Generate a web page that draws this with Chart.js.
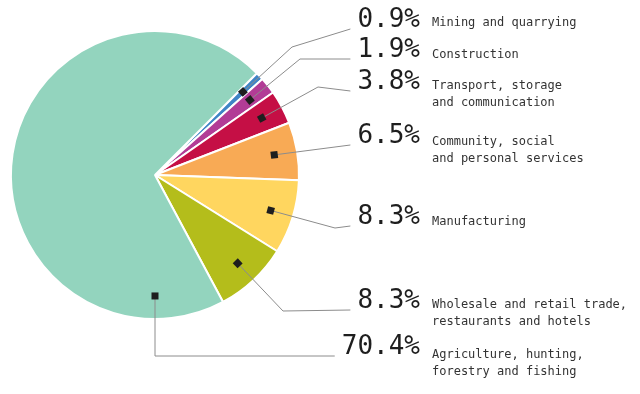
<!DOCTYPE html>
<html>
<head>
<meta charset="utf-8">
<script src="https://cdn.jsdelivr.net/npm/chart.js@4"></script>
<style>
  html, body { margin: 0; padding: 0; background: #fff; }
  #wrap { width: 640px; height: 394px; position: relative; }
</style>
</head>
<body>
<div id="wrap"><canvas id="grafico"></canvas></div>
<script>
// dados (em ordem horaria a partir do topo-direita)
const setores = [
  ['Mining and quarrying'],
  ['Construction'],
  ['Transport, storage', 'and communication'],
  ['Community, social', 'and personal services'],
  ['Manufacturing'],
  ['Wholesale and retail trade,', 'restaurants and hotels'],
  ['Agriculture, hunting,', 'forestry and fishing']
];
const valores = [0.9, 1.9, 3.8, 6.5, 8.3, 8.3, 70.4];
const cores = ['#3f85c6', '#b23c96', '#c50f45', '#f8aa55', '#ffd65f', '#b4bd1b', '#93d4be'];

// posicoes dos rotulos (layout)
const yPct = [20, 50, 82, 136, 217, 301, 347];
const yTexto = [23, 55, 86, 142, 222, 305, 355];
const cotovelos = [[292, 47], [300, 59], [318, 87], null, [335, 228], [283, 311], 'abaixo'];

const fontePct = '26px "DejaVu Sans Mono"';
const fonteTexto = '12px "DejaVu Sans Mono"';

const rotulos = {
  id: 'rotulos',
  afterDatasetsDraw(chart) {
    const ctx = chart.ctx;
    const arcs = chart.getDatasetMeta(0).data;
    ctx.save();
    arcs.forEach((arc, i) => {
      const p = arc.getProps(['x', 'y', 'startAngle', 'endAngle', 'outerRadius'], true);
      let ang = (p.startAngle + p.endAngle) / 2;
      if (i === arcs.length - 1) ang = Math.PI / 2; // fatia grande: marcador para baixo
      const mx = p.x + Math.cos(ang) * p.outerRadius * 0.84;
      const my = p.y + Math.sin(ang) * p.outerRadius * 0.84;

      const pct = valores[i].toFixed(1) + '%';
      ctx.font = fontePct;
      const larg = ctx.measureText(pct).width;
      const fimX = 420 - larg - 7;
      const fimY = yPct[i] + 9;

      const pts = [[mx, my]];
      const c = cotovelos[i];
      if (c === 'abaixo') pts.push([mx, fimY]);
      else if (c) pts.push(c);
      pts.push([fimX, fimY]);

      ctx.strokeStyle = '#8c8c8c';
      ctx.lineWidth = 1;
      ctx.beginPath();
      ctx.moveTo(pts[0][0], pts[0][1]);
      for (let k = 1; k < pts.length; k++) ctx.lineTo(pts[k][0], pts[k][1]);
      ctx.stroke();

      // marcador
      const dir = Math.atan2(pts[1][1] - my, pts[1][0] - mx);
      ctx.save();
      ctx.translate(mx, my);
      ctx.rotate(dir);
      ctx.fillStyle = '#1e1e1e';
      ctx.fillRect(-3.5, -3.5, 7, 7);
      ctx.restore();

      // textos
      ctx.fillStyle = '#1e1e1e';
      ctx.textAlign = 'right';
      ctx.textBaseline = 'middle';
      ctx.fillText(pct, 420, yPct[i]);
      ctx.font = fonteTexto;
      ctx.fillStyle = '#333';
      ctx.textAlign = 'left';
      setores[i].forEach((linha, k) => ctx.fillText(linha, 432, yTexto[i] + k * 17));
    });
    ctx.restore();
  }
};

new Chart(document.getElementById('grafico'), {
  type: 'pie',
  data: {
    labels: setores.map(s => s.join(' ')),
    datasets: [{
      data: valores,
      backgroundColor: cores,
      borderColor: '#fff',
      borderWidth: 2
    }]
  },
  options: {
    responsive: true,
    maintainAspectRatio: false,
    animation: false,
    rotation: 45,
    layout: { padding: { left: 10, top: 30, right: 340, bottom: 74 } },
    plugins: { legend: { display: false }, tooltip: { enabled: false } }
  },
  plugins: [rotulos]
});
</script>
</body>
</html>
